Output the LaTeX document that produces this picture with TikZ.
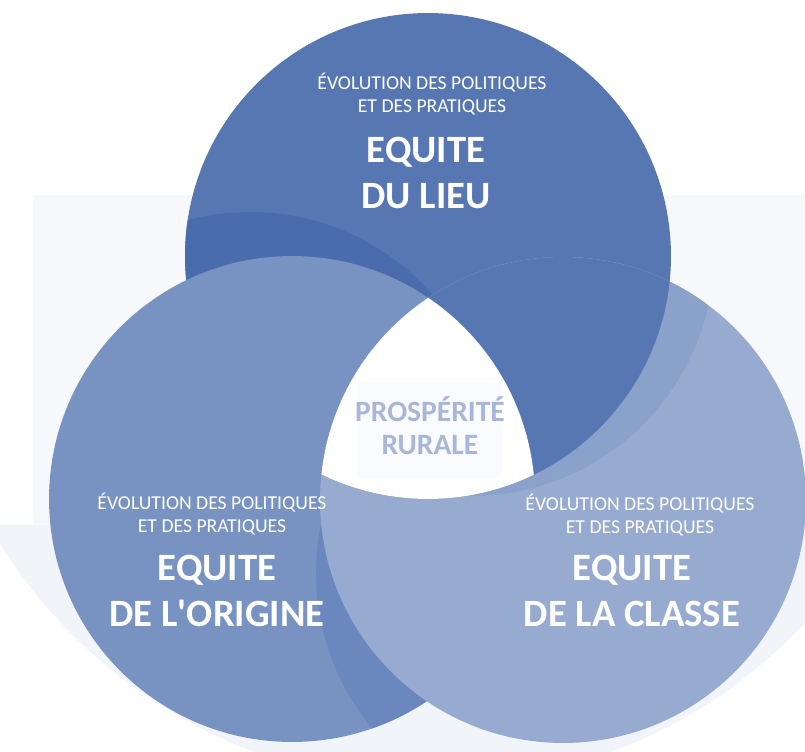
\documentclass[tikz,border=0pt]{standalone}
\usepackage{fontspec}
\setmainfont{Carlito}
\definecolor{fond}{HTML}{F7F8FC}
\definecolor{fondbas}{HTML}{F1F4F9}
\definecolor{lieu}{HTML}{5777B3}
\definecolor{lieuombre}{HTML}{4A6CAD}
\definecolor{origine}{HTML}{7893C2}
\definecolor{origineombre}{HTML}{6A88BD}
\definecolor{classe}{HTML}{97AAD0}
\definecolor{classeombre}{HTML}{8AA1CA}
\definecolor{rurale}{HTML}{A8B7D8}
\definecolor{centrefond}{HTML}{FAFBFE}
\def\rr{4.86cm}

\begin{document}
\begin{tikzpicture}[x=0.02cm, y=-0.02cm, every node/.style={text=white, align=center},
    sub/.style={font=\fontsize{11.2}{13}\selectfont},
    big/.style={font=\bfseries\fontsize{22}{26}\selectfont}]
    \useasboundingbox (0,0) rectangle (805,751);
    \clip (0,0) rectangle (805,751);
    \fill[fond] (433,274) circle[radius=10.2cm];
    \begin{scope}
      \clip (0,525) rectangle (805,751);
      \fill[fondbas] (433,274) circle[radius=10.2cm];
    \end{scope}
    \fill[white] (0,0) rectangle (805,195);
    \fill[white] (0,0) rectangle (33,525);
    \fill[lieu] (428,256) circle[radius=\rr];
    \begin{scope}
      \clip (428,256) circle[radius=\rr];
      \fill[lieuombre] (250,455) circle[radius=\rr];
    \end{scope}
    \fill[origine] (292,499) circle[radius=\rr];
    \begin{scope}
      \clip (292,499) circle[radius=\rr];
      \fill[origineombre] (559,573) circle[radius=\rr];
    \end{scope}
    \fill[classe] (563,500) circle[radius=\rr];
    \begin{scope}
      \clip (563,500) circle[radius=\rr];
      \fill[classeombre] (471,253) circle[radius=\rr];
      \fill[lieu] (428,256) circle[radius=\rr];
      \clip (292,499) circle[radius=\rr];
      \fill[white] (428,256) circle[radius=\rr];
    \end{scope}
    \fill[centrefond] (357,383) rectangle (502,478);

    \node[sub] (lieusub) at (432,94) {ÉVOLUTION DES POLITIQUES\\ET DES PRATIQUES};
    \node[big] (lieutitre) at (426,173) {EQUITE\\DU LIEU};
    \node[sub] (originesub) at (212,514) {ÉVOLUTION DES POLITIQUES\\ET DES PRATIQUES};
    \node[big] (originetitre) at (217,591) {EQUITE\\DE L\textquotesingle ORIGINE};
    \node[sub] (classesub) at (640,515) {ÉVOLUTION DES POLITIQUES\\ET DES PRATIQUES};
    \node[big] (classetitre) at (632,591) {EQUITE\\DE LA CLASSE};
    \node[text=rurale, font=\bfseries\fontsize{16.8}{19}\selectfont] (prosperite) at (430,426) {PROSPÉRITÉ\\RURALE};
  \end{tikzpicture}
\end{document}
